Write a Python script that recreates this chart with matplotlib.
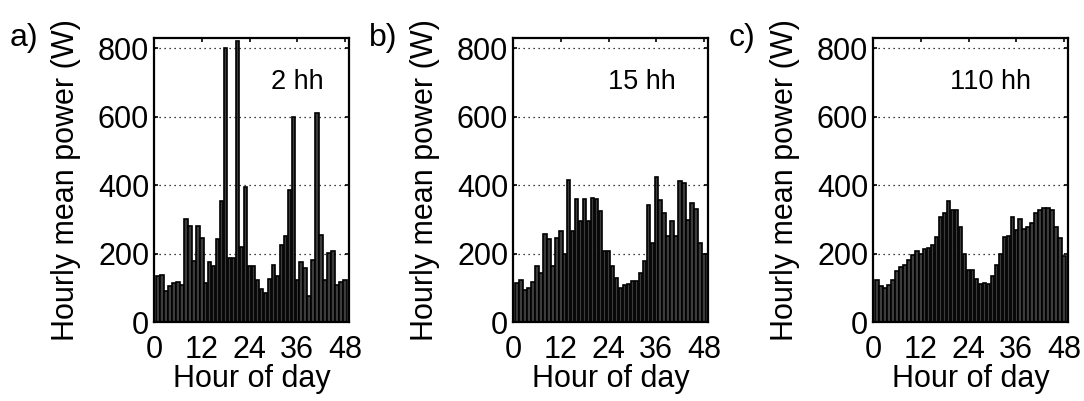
import matplotlib
matplotlib.use("Agg")
import matplotlib.pyplot as plt
import numpy as np

plt.rcParams['font.family'] = ['Liberation Sans', 'DejaVu Sans']

# hourly mean power (W) over two days, one bar per hour
hours = np.arange(1, 49)

power_2hh = [135, 137, 90, 105, 115, 118, 108, 300, 280, 178, 280, 245,
             115, 176, 165, 242, 355, 800, 188, 186, 820, 220, 395, 164,
             164, 122, 95, 85, 125, 166, 134, 224, 250, 386, 598, 122,
             175, 158, 75, 180, 612, 255, 122, 203, 207, 108, 118, 122]

power_15hh = [115, 122, 93, 98, 118, 165, 144, 258, 244, 165, 245, 265,
              199, 414, 267, 359, 294, 359, 294, 363, 359, 325, 207, 207,
              165, 129, 100, 107, 110, 120, 120, 142, 178, 342, 231, 424,
              358, 320, 250, 294, 250, 412, 405, 298, 349, 329, 231, 199]

power_110hh = [123, 105, 100, 107, 122, 149, 161, 168, 180, 197, 207, 200,
               213, 216, 226, 248, 306, 318, 354, 326, 326, 279, 200, 152,
               152, 127, 112, 115, 112, 134, 168, 200, 248, 252, 308, 270,
               300, 271, 279, 289, 320, 326, 332, 332, 326, 279, 245, 192]

panel_labels = ['a)', 'b)', 'c)']
group_labels = ['2 hh', '15 hh', '110 hh']
label_x = [29.5, 23.8, 19.3]
series = [power_2hh, power_15hh, power_110hh]

W, H = 1084, 401
fig = plt.figure(figsize=(W / 100, H / 100), dpi=100)

lefts = [154, 513, 873]
ax_w = 195
bottom_px, top_px = 322, 38

for left, vals, plab, glab, gx in zip(lefts, series, panel_labels,
                                      group_labels, label_x):
    ax = fig.add_axes([left / W, (H - bottom_px) / H, ax_w / W,
                       (bottom_px - top_px) / H])
    ax.bar(hours, vals, width=0.88, color='#3c3c3c', edgecolor='black',
           linewidth=1.2, zorder=2)
    ax.set_xlim(0, 49)
    ax.set_ylim(0, 830)
    ax.set_xticks([0, 12, 24, 36, 48])
    ax.set_yticks([0, 200, 400, 600, 800])
    ax.yaxis.grid(True, linestyle=(0, (1, 3)), color='black', linewidth=0.9,
                  zorder=1)
    ax.set_axisbelow(True)
    ax.tick_params(direction='in', length=3, width=1.2, labelsize=22,
                   top=True, right=True)
    ax.tick_params(axis='x', pad=9)
    for s in ax.spines.values():
        s.set_linewidth(1.6)
    ax.set_xlabel('Hour of day', fontsize=22, labelpad=0)
    ax.set_ylabel('Hourly mean power (W)', fontsize=22, labelpad=12)
    ax.text(gx, 700, glab, fontsize=19.5, ha='left', va='center')
    fig.text((left - 144) / W, 1 - 38 / H, plab, fontsize=23,
             ha='left', va='center')

fig.savefig('out.png', dpi=100)
